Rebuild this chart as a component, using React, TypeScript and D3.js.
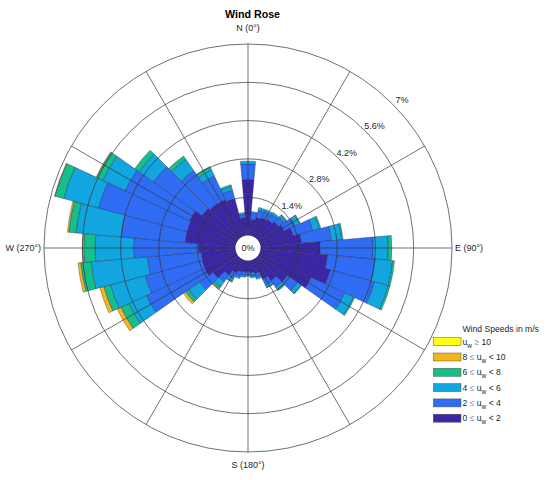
import React, { useEffect, useRef } from 'react';
import * as d3 from 'd3';

// direction bins (degrees, clockwise from north), 10 degree wide
const directions = [0, 10, 20, 30, 40, 50, 60, 70, 80, 90, 100, 110, 120, 130, 140, 150, 160, 170,
  180, 190, 200, 210, 220, 230, 240, 250, 260, 270, 280, 290, 300, 310, 320, 330, 340, 350];

// frequency (%) per speed class for each direction
const speed0to2 = [2.05, 0.60, 0.70, 0.75, 0.80, 0.90, 1.00, 1.25, 1.50, 2.18, 2.46, 2.66, 2.10, 1.30, 1.00, 0.80, 0.50, 0.45,
  0.40, 0.42, 0.45, 0.55, 0.75, 1.10, 1.30, 1.28, 1.26, 1.36, 1.85, 1.85, 1.90, 1.60, 1.52, 1.50, 1.40, 0.65];
const speed2to4 = [0.57, 0.22, 0.28, 0.25, 0.25, 0.25, 0.45, 0.75, 1.10, 1.94, 1.74, 1.67, 1.35, 0.45, 0.30, 0.25, 0.15, 0.13,
  0.12, 0.13, 0.17, 0.23, 0.30, 0.60, 2.35, 2.16, 1.98, 2.37, 2.35, 3.35, 2.60, 2.15, 1.48, 0.95, 0.34, 0.13];
const speed4to6 = [0.10, 0.06, 0.10, 0.10, 0.09, 0.10, 0.17, 0.25, 0.38, 0.55, 0.65, 0.52, 0.35, 0.15, 0.12, 0.09, 0.08, 0.06,
  0.06, 0.07, 0.08, 0.12, 0.23, 0.50, 0.70, 1.31, 2.06, 1.40, 1.65, 1.32, 0.90, 0.65, 0.50, 0.25, 0.14, 0.07];
const speed6to8 = [0, 0, 0, 0, 0, 0.02, 0.04, 0.05, 0.05, 0.13, 0.07, 0.07, 0.05, 0.03, 0.03, 0.02, 0, 0,
  0, 0, 0, 0.02, 0.07, 0.13, 0.32, 0.25, 0.38, 0.42, 0.27, 0.33, 0.25, 0.20, 0.15, 0.13, 0.06, 0];
const speed8to10 = [0, 0, 0, 0, 0, 0, 0, 0, 0, 0, 0, 0, 0, 0, 0, 0, 0, 0,
  0, 0, 0, 0, 0.03, 0.10, 0.15, 0.15, 0.10, 0.05, 0.05, 0.02, 0.02, 0, 0, 0, 0, 0];
const speed10plus = [0, 0, 0, 0, 0, 0, 0, 0, 0, 0, 0, 0, 0, 0, 0, 0, 0, 0,
  0, 0, 0, 0, 0, 0, 0, 0, 0, 0, 0, 0, 0, 0, 0, 0, 0, 0];

const seriesLowToHigh = [speed0to2, speed2to4, speed4to6, speed6to8, speed8to10, speed10plus];
const colors = ['#3B27A6', '#2F6CF4', '#12A6E0', '#14BF8C', '#F6B51C', '#FFFF12'];

// legend rows, top to bottom
const legendBins: [number | null, number | null][] = [[10, null], [8, 10], [6, 8], [4, 6], [2, 4], [0, 2]];

const ringTicks = [1.4, 2.8, 4.2, 5.6, 7];
const ringLabels = ['1.4%', '2.8%', '4.2%', '5.6%', '7%'];
const compassLabels = ['N (0°)', 'E (90°)', 'S (180°)', 'W (270°)'];

const App = () => {
  const ref = useRef<SVGSVGElement>(null);

  useEffect(() => {
    if (!ref.current) return;
    const svg = d3.select(ref.current);
    svg.selectAll('*').remove();

    const cx = 248;
    const cy = 248;
    const font = 'Liberation Sans, Arial, Helvetica, sans-serif';
    const textColor = '#262626';
    const r = d3.scaleLinear().domain([0, 7]).range([12.5, 204]);
    const rad = (deg: number) => (deg * Math.PI) / 180;

    const g = svg.append('g').attr('transform', `translate(${cx},${cy})`);

    // stacked bars
    const arc = d3.arc<any>();
    directions.forEach((dir, i) => {
      let base = 0;
      seriesLowToHigh.forEach((series, k) => {
        const v = series[i];
        if (v <= 0) return;
        const top = base + v;
        g.append('path')
          .attr('d', arc({
            innerRadius: r(base),
            outerRadius: r(top),
            startAngle: rad(dir - 5),
            endAngle: rad(dir + 5),
          }) as string)
          .attr('fill', colors[k])
          .attr('stroke', '#1e1e3a')
          .attr('stroke-width', 0.35);
        base = top;
      });
    });

    // grid on top
    g.selectAll('circle.ring')
      .data(ringTicks)
      .enter()
      .append('circle')
      .attr('r', d => r(d))
      .attr('fill', 'none')
      .attr('stroke', '#333')
      .attr('stroke-width', 0.7);

    d3.range(0, 360, 30).forEach(a => {
      g.append('line')
        .attr('x1', r(0) * Math.sin(rad(a)))
        .attr('y1', -r(0) * Math.cos(rad(a)))
        .attr('x2', r(7) * Math.sin(rad(a)))
        .attr('y2', -r(7) * Math.cos(rad(a)))
        .attr('stroke', '#333')
        .attr('stroke-width', 0.7);
    });

    // center hole
    g.append('circle').attr('r', r(0)).attr('fill', '#fff');
    g.append('text')
      .attr('x', 0).attr('y', 3.2)
      .attr('text-anchor', 'middle')
      .style('font-family', font).style('font-size', '9px')
      .attr('fill', textColor)
      .text('0%');

    // radial labels
    ringTicks.forEach((t, i) => {
      const rr = r(t) + 10;
      const a = rad(46);
      g.append('text')
        .attr('x', rr * Math.sin(a))
        .attr('y', -rr * Math.cos(a) + 3.2)
        .attr('text-anchor', 'middle')
        .style('font-family', font).style('font-size', '9px')
        .attr('fill', textColor)
        .text(ringLabels[i]);
    });

    // compass labels
    const R = r(7);
    const labelPos = [
      { x: 0, y: -R - 13.5, anchor: 'middle' },
      { x: R + 3, y: 3.2, anchor: 'start' },
      { x: 0, y: R + 16, anchor: 'middle' },
      { x: -R - 3, y: 3.2, anchor: 'end' },
    ];
    compassLabels.forEach((lab, i) => {
      g.append('text')
        .attr('x', labelPos[i].x)
        .attr('y', labelPos[i].y)
        .attr('text-anchor', labelPos[i].anchor)
        .style('font-family', font).style('font-size', '9px')
        .attr('fill', textColor)
        .text(lab);
    });

    // title
    svg.append('text')
      .attr('x', 252.5).attr('y', 18.3)
      .attr('text-anchor', 'middle')
      .style('font-family', font).style('font-size', '10.7px').style('font-weight', 'bold')
      .attr('fill', '#000')
      .text('Wind Rose');

    // legend
    const lg = svg.append('g').attr('transform', 'translate(433,0)');
    lg.append('text')
      .attr('x', 29.5).attr('y', 332)
      .style('font-family', font).style('font-size', '8.6px')
      .attr('fill', textColor)
      .text('Wind Speeds in m/s');

    legendBins.forEach((bin, i) => {
      const y = 337.7 + i * 15.3;
      lg.append('rect')
        .attr('x', 0.3).attr('y', y)
        .attr('width', 27.7).attr('height', 8)
        .attr('fill', colors[5 - i])
        .attr('stroke', '#555')
        .attr('stroke-width', 0.5);
      const t = lg.append('text')
        .attr('x', 29.5).attr('y', y + 7)
        .style('font-family', font).style('font-size', '8.6px')
        .attr('fill', textColor);
      const [lo, hi] = bin;
      if (lo !== null && hi !== null) {
        t.append('tspan').text(`${lo} `);
        t.append('tspan').attr('fill', '#888').text('≤');
        t.append('tspan').text(' u');
      } else {
        t.append('tspan').text('u');
      }
      t.append('tspan').attr('dy', 3).style('font-size', '6.5px').text('w');
      if (hi !== null) {
        t.append('tspan').attr('dy', -3).text(` < ${hi}`);
      } else {
        t.append('tspan').attr('dy', -3).text(' ');
        t.append('tspan').attr('fill', '#888').text('≥');
        t.append('tspan').text(` ${lo}`);
      }
    });
  }, []);

  return (
    <svg
      ref={ref}
      width={550}
      height={480}
      style={{ position: 'absolute', left: 0, top: 0, background: '#fff' }}
    />
  );
};

export default App;
